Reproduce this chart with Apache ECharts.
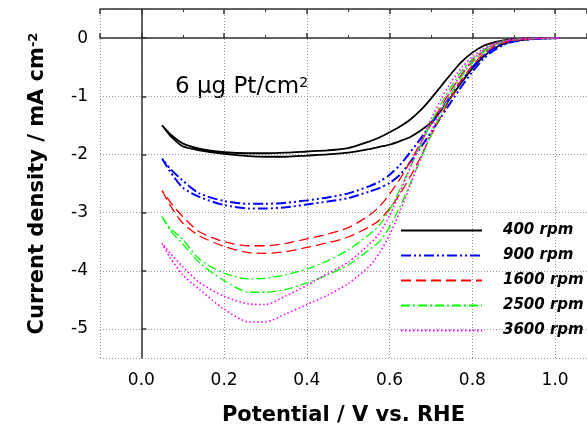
<!DOCTYPE html>
<html>
<head>
<meta charset="utf-8">
<script src="https://cdn.jsdelivr.net/npm/echarts@6/dist/echarts.min.js"></script>
<style>
html,body{margin:0;padding:0;background:#fff;}
#rde{width:587px;height:431px;}
</style>
</head>
<body>
<div id="rde"></div>
<script>
// potential grid (V vs RHE), shared by every scan
var potential=[0.05,0.07,0.1,0.14,0.2,0.26,0.3,0.35,0.4,0.45,0.5,0.55,0.575,0.6,0.625,0.65,0.675,0.7,0.725,0.75,0.775,0.8,0.825,0.85,0.875,0.9,0.95,1.01]

// current density (mA cm-2), lower and upper branch of each loop
var low400=[-1.50,-1.68,-1.86,-1.93,-1.99,-2.03,-2.04,-2.04,-2.02,-2.00,-1.97,-1.91,-1.87,-1.83,-1.77,-1.70,-1.59,-1.45,-1.24,-1.00,-0.75,-0.52,-0.33,-0.19,-0.10,-0.05,-0.012,0]
var up400=[-1.50,-1.65,-1.81,-1.90,-1.96,-1.98,-1.98,-1.97,-1.95,-1.93,-1.89,-1.78,-1.71,-1.62,-1.52,-1.40,-1.24,-1.04,-0.82,-0.60,-0.40,-0.25,-0.14,-0.08,-0.04,-0.02,-0.005,0]
var low900=[-2.07,-2.30,-2.57,-2.73,-2.87,-2.93,-2.93,-2.91,-2.86,-2.81,-2.75,-2.64,-2.58,-2.49,-2.35,-2.13,-1.88,-1.62,-1.35,-1.08,-0.82,-0.58,-0.37,-0.22,-0.12,-0.06,-0.015,0]
var up900=[-2.07,-2.25,-2.45,-2.67,-2.80,-2.85,-2.85,-2.83,-2.79,-2.74,-2.67,-2.55,-2.47,-2.35,-2.18,-1.96,-1.73,-1.48,-1.23,-0.97,-0.72,-0.50,-0.31,-0.18,-0.09,-0.04,-0.01,0]
var low1600=[-2.62,-2.88,-3.18,-3.40,-3.58,-3.69,-3.70,-3.67,-3.60,-3.52,-3.42,-3.25,-3.13,-2.93,-2.68,-2.38,-2.04,-1.68,-1.33,-1.00,-0.71,-0.47,-0.28,-0.15,-0.08,-0.04,-0.01,0]
var up1600=[-2.62,-2.82,-3.07,-3.33,-3.50,-3.57,-3.57,-3.53,-3.45,-3.37,-3.26,-3.05,-2.90,-2.68,-2.42,-2.12,-1.80,-1.48,-1.17,-0.88,-0.62,-0.40,-0.24,-0.13,-0.06,-0.03,-0.008,0]
var low2500=[-3.07,-3.31,-3.54,-3.86,-4.17,-4.37,-4.37,-4.32,-4.21,-4.07,-3.90,-3.64,-3.50,-3.25,-2.90,-2.50,-2.08,-1.67,-1.28,-0.94,-0.65,-0.42,-0.25,-0.13,-0.06,-0.03,-0.008,0]
var up2500=[-3.07,-3.27,-3.46,-3.80,-4.04,-4.14,-4.13,-4.07,-3.97,-3.83,-3.64,-3.38,-3.22,-2.95,-2.60,-2.22,-1.84,-1.46,-1.12,-0.82,-0.56,-0.36,-0.21,-0.11,-0.05,-0.025,-0.006,0]
var low3600=[-3.53,-3.78,-4.07,-4.32,-4.66,-4.88,-4.88,-4.74,-4.58,-4.42,-4.22,-3.93,-3.70,-3.38,-2.98,-2.52,-2.06,-1.62,-1.22,-0.88,-0.60,-0.38,-0.22,-0.12,-0.06,-0.03,-0.008,0]
var up3600=[-3.53,-3.70,-3.93,-4.20,-4.44,-4.57,-4.58,-4.43,-4.25,-4.05,-3.85,-3.55,-3.36,-3.05,-2.65,-2.22,-1.80,-1.40,-1.04,-0.74,-0.50,-0.32,-0.19,-0.10,-0.05,-0.02,-0.005,0]

var speeds=['400 rpm','900 rpm','1600 rpm','2500 rpm','3600 rpm']
var lows=[low400,low900,low1600,low2500,low3600]
var ups=[up400,up900,up1600,up2500,up3600]
var colors=['#000000','#0000ff','#ff0000','#00ff00','#ff00ff']
var dashes=['solid',[10,3,2,3,2,3],[10,5],[9,3,2,3],[1.5,2.5]]
var widths=[1.8,2,1.3,1.3,1.6]

var font='DejaVu Sans'

// one closed loop per rotation speed: out along the lower branch, back along the upper one
function loop(low,up){
	var pts=[]
	for(var i=0;i<potential.length;i++) pts.push([potential[i],low[i]])
	for(var j=potential.length-1;j>=0;j--) pts.push([potential[j],up[j]])
	return pts
}

var series=[]
for(var k=0;k<speeds.length;k++){
	series.push({
		name:speeds[k],
		type:'line',
		data:loop(lows[k],ups[k]),
		symbol:'none',
		showSymbol:false,
		smooth:0.25,
		animation:false,
		itemStyle:{color:colors[k]},
		lineStyle:{color:colors[k],width:widths[k],type:dashes[k]}
	})
}

var gridLine={show:true,lineStyle:{color:'#999',width:1,type:[1,2]}}
var axisLine={show:true,lineStyle:{color:'#333',width:1.5}}
// plot is cut on the right, so the x range stops short of 1.1
var xMin=-0.1,xMax=1.077

var mychart=echarts.init(document.getElementById('rde'));
var option={
	animation:false,
	grid:{left:100,right:0,top:9,bottom:73},
	legend:{
		orient:'vertical',
		left:400,
		top:223,
		padding:0,
		itemWidth:81,
		itemHeight:14,
		itemGap:10,
		selectedMode:false,
		itemStyle:{opacity:0},//hide the circle in the legend line
		data:speeds,
		textStyle:{fontFamily:font,fontWeight:'bold',fontStyle:'italic',fontSize:15,lineHeight:14,color:'#000',padding:[0,0,0,16]}
	},
	graphic:[{
		type:'text',
		left:175,
		top:76,
		style:{
			text:'6 μg Pt/cm{sup|2}',
			fontFamily:font,
			fontSize:23,
			fill:'#000',
			rich:{sup:{fontFamily:font,fontSize:14,verticalAlign:'top',fill:'#000'}}
		}
	}],
	xAxis:[{
		type:'value',
		min:xMin,
		max:xMax,
		name:'Potential / V vs. RHE',
		nameLocation:'middle',
		nameGap:47,
		nameTextStyle:{fontFamily:font,fontWeight:'bold',fontSize:21,color:'#000'},
		axisLine:axisLine,
		axisTick:{inside:true,length:5,lineStyle:{color:'#333',width:1.5}},
		minorTick:{show:true,splitNumber:2,length:3,lineStyle:{color:'#333',width:1}},
		axisLabel:{
			margin:14,
			fontFamily:font,fontSize:17,color:'#000',
			showMinLabel:false,showMaxLabel:false,
			formatter:function(v){return v.toFixed(1)}
		},
		splitLine:gridLine
	},{
		type:'value',
		position:'top',
		min:xMin,
		max:xMax,
		axisLine:axisLine,
		axisTick:{inside:true,length:5,lineStyle:{color:'#333',width:1.5}},
		minorTick:{show:true,splitNumber:2,length:3,lineStyle:{color:'#333',width:1}},
		axisLabel:{show:false},
		splitLine:{show:false}
	}],
	yAxis:{
		type:'value',
		min:-5.5,
		max:0.5,
		name:'Current density / mA cm{sup|-2}',
		nameLocation:'middle',
		nameGap:52,
		nameTextStyle:{
			fontFamily:font,fontWeight:'bold',fontSize:21,color:'#000',
			rich:{sup:{fontFamily:font,fontWeight:'bold',fontSize:13,verticalAlign:'top',color:'#000'}}
		},
		axisLine:axisLine,
		axisTick:{inside:true,length:5,lineStyle:{color:'#333',width:1.5}},
		axisLabel:{margin:12,fontFamily:font,fontSize:17,color:'#000',showMinLabel:false,showMaxLabel:false},
		splitLine:gridLine
	},
	series:series
};
mychart.setOption(option);
</script>
</body>
</html>
